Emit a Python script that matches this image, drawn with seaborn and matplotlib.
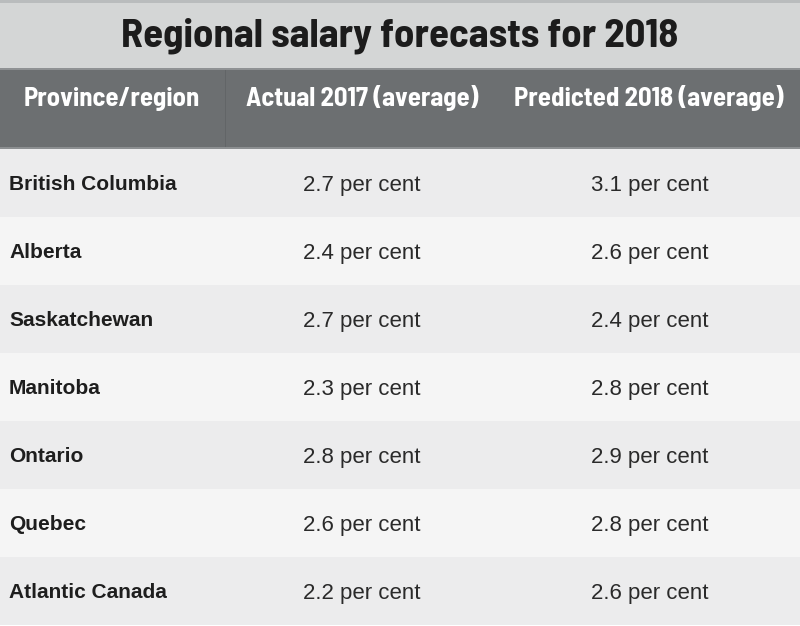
import matplotlib
matplotlib.use("Agg")
import matplotlib.pyplot as plt
from matplotlib.colors import ListedColormap
from matplotlib.patches import Rectangle
import numpy as np
import pandas as pd
import seaborn as sns

title = "Regional salary forecasts for 2018"
headers = ["Province/region", "Actual 2017 (average)", "Predicted 2018 (average)"]
regions = ["British Columbia", "Alberta", "Saskatchewan", "Manitoba",
           "Ontario", "Quebec", "Atlantic Canada"]
actual_2017 = [2.7, 2.4, 2.7, 2.3, 2.8, 2.6, 2.2]
predicted_2018 = [3.1, 2.6, 2.4, 2.8, 2.9, 2.8, 2.6]

sns.set_theme(style="white")
plt.rcParams['font.family'] = ['Liberation Sans', 'DejaVu Sans']

COND = ["Barlow Semi Condensed", "Barlow Condensed", "Liberation Sans", "DejaVu Sans"]
REG = ["Liberation Sans", "DejaVu Sans"]

W, H = 800, 626
fig = plt.figure(figsize=(W / 100, H / 100), dpi=100)

# background axes in pixel coordinates
bg = fig.add_axes([0, 0, 1, 1])
bg.set_xlim(0, W)
bg.set_ylim(H, 0)
bg.axis("off")
bg.add_patch(Rectangle((0, 0), W, 68, color="#d4d6d6", lw=0))
bg.add_patch(Rectangle((0, 0), W, 3, color="#b9bcbd", lw=0))
bg.add_patch(Rectangle((0, 68), W, 81, color="#6c6f71", lw=0))
bg.add_patch(Rectangle((0, 68), W, 2, color="#8f9294", lw=0))
bg.add_patch(Rectangle((224.5, 70), 1.2, 78, color="#626567", lw=0))
bg.add_patch(Rectangle((0, 147), W, 2, color="#8c8f91", lw=0))

bg.text(400, 47, title, ha="center", va="baseline", fontsize=29.3,
        fontweight="bold", color="#1c1c1c", family=COND)
for x, h in zip([112, 362, 649], headers):
    bg.text(x, 106, h, ha="center", va="baseline", fontsize=19.2,
            fontweight="bold", color="white", family=COND)

# body table as heatmap of alternating rows
top, bottom = 149, 625
ax = fig.add_axes([0, (H - bottom) / H, 1, (bottom - top) / H])
parity = pd.DataFrame({"row": [i % 2 for i in range(len(regions))]}, index=regions)
sns.heatmap(parity, ax=ax, cmap=ListedColormap(["#ececed", "#f5f5f5"]),
            cbar=False, vmin=0, vmax=1, linewidths=0)
ax.set_xticks([])
ax.set_yticks([])
ax.set_xlabel("")
ax.set_ylabel("")

for i, (r, a, p) in enumerate(zip(regions, actual_2017, predicted_2018)):
    y = i + 0.5
    ax.text(9 / W, y, r, ha="left", va="center_baseline", fontsize=15,
            fontweight="bold", color="#1e1e1e", family=REG)
    ax.text(362 / W, y, f"{a:.1f} per cent", ha="center", va="center_baseline",
            fontsize=16, color="#2a2a2a", family=REG)
    ax.text(650 / W, y, f"{p:.1f} per cent", ha="center", va="center_baseline",
            fontsize=16, color="#2a2a2a", family=REG)

fig.savefig("out.png", dpi=100, facecolor="white")
